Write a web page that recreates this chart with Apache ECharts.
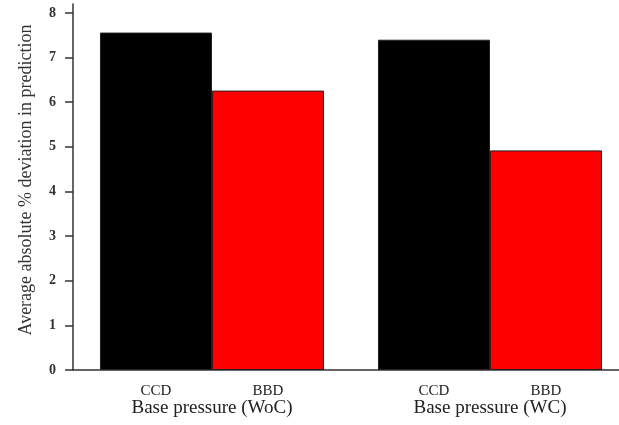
<!DOCTYPE html>
<html>
<head>
<meta charset="utf-8">
<script src="https://cdn.jsdelivr.net/npm/echarts@6/dist/echarts.min.js"></script>
<style>html,body{margin:0;padding:0;background:#fff}#c{width:619px;height:425px}</style>
</head>
<body>
<div id="c"></div>
<script>
const categories = ['Base pressure (WoC)', 'Base pressure (WC)'];
const seriesNames = ['CCD', 'BBD'];
const ccdValues = [7.56, 7.40];
const bbdValues = [6.26, 4.92];
const yTicks = [0, 1, 2, 3, 4, 5, 6, 7, 8];
const yTitle = 'Average absolute % deviation in prediction';

const chart = echarts.init(document.getElementById('c'));
const font = 'Liberation Serif';
const barLabel = {
  show: true, position: 'bottom', distance: 14,
  formatter: p => p.seriesName,
  fontFamily: font, fontSize: 15, color: '#222'
};
chart.setOption({
  animation: false,
  grid: { left: 73, top: 4, width: 556, bottom: 55, containLabel: false, outerBoundsMode: 'none' },
  xAxis: {
    type: 'category', data: categories,
    axisLine: { lineStyle: { color: '#333', width: 1.5 } },
    axisTick: { alignWithLabel: true, length: 7, lineStyle: { color: '#333', width: 1.5 } },
    axisLabel: { margin: 29, fontFamily: font, fontSize: 19, color: '#222' },
    splitLine: { show: false }
  },
  yAxis: {
    type: 'value', min: 0, max: 8.2,
    name: yTitle, nameLocation: 'middle', nameGap: 38,
    nameTextStyle: { fontFamily: font, fontSize: 18, color: '#333', padding: [0, 0, 0, 14] },
    axisLine: { show: true, lineStyle: { color: '#333', width: 1.5 } },
    axisTick: { show: true, length: 8, customValues: yTicks, lineStyle: { color: '#333', width: 1.5 } },
    axisLabel: { customValues: yTicks, margin: 17, fontFamily: font, fontSize: 14, fontWeight: 'bold', color: '#333' },
    splitLine: { show: false }
  },
  series: [
    { name: seriesNames[0], type: 'bar', data: ccdValues, barGap: '0%', barCategoryGap: '19.4%',
      itemStyle: { color: '#000', borderColor: '#222', borderWidth: 1 }, label: barLabel },
    { name: seriesNames[1], type: 'bar', data: bbdValues,
      itemStyle: { color: '#ff0000', borderColor: '#222', borderWidth: 1 }, label: barLabel }
  ]
});
</script>
</body>
</html>
